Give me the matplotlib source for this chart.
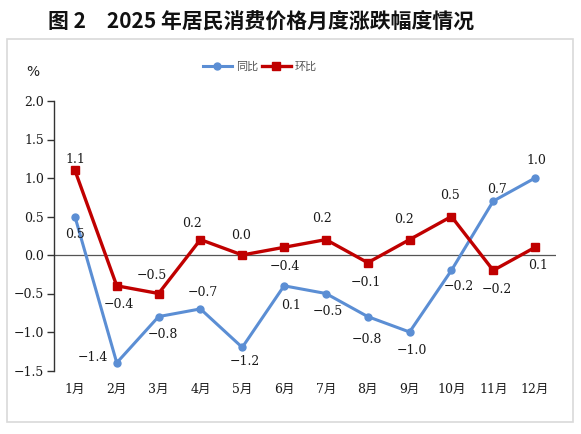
import matplotlib
matplotlib.use('Agg')
import matplotlib.pyplot as plt
from matplotlib.patches import Rectangle

months = ['1月', '2月', '3月', '4月', '5月', '6月', '7月', '8月', '9月', '10月', '11月', '12月']
yoy = [0.5, -1.4, -0.8, -0.7, -1.2, -0.4, -0.5, -0.8, -1.0, -0.2, 0.7, 1.0]
mom = [1.1, -0.4, -0.5, 0.2, 0.0, 0.1, 0.2, -0.1, 0.2, 0.5, -0.2, 0.1]
# labels as printed in the source (the 6月 ones are swapped there)
yoy_text = ['0.5', '−1.4', '−0.8', '−0.7', '−1.2', '0.1', '−0.5', '−0.8', '−1.0', '−0.2', '0.7', '1.0']
mom_text = ['1.1', '−0.4', '−0.5', '0.2', '0.0', '−0.4', '0.2', '−0.1', '0.2', '0.5', '−0.2', '0.1']
yticks = [2.0, 1.5, 1.0, 0.5, 0.0, -0.5, -1.0, -1.5]

# label offsets in pixels
yoy_off = [(0, -18), (-24, 5), (4, -18), (2, 16), (3, -14), (7, -20),
           (2, -18), (-1, -23), (2, -19), (7, -16), (4, 12), (1, 18)]
mom_off = [(0, 11), (2, -19), (-7, 18), (-8, 16), (-1, 20), (1, -19),
           (-4, 21), (-2, -20), (-6, 20), (-1, 21), (4, -19), (3, -18)]

serif = ['DejaVu Serif', 'Noto Sans CJK SC']
blue = '#5B8ED4'
red = '#C00000'

fig = plt.figure(figsize=(5.81, 4.34), dpi=100)
ax = fig.add_axes([54 / 581, 1 - 370.5 / 434, (556 - 54) / 581, (370.5 - 101) / 434])

fig.patches.append(Rectangle((7 / 581, 1 - 422 / 434), 566 / 581, 383 / 434,
                             transform=fig.transFigure, fill=False,
                             edgecolor='#d9d9d9', lw=1.2))

fig.text(261 / 581, 1 - 22 / 434, '图 2　2025 年居民消费价格月度涨跌幅度情况',
         ha='center', va='center', fontsize=15, fontweight='bold',
         family=['Noto Sans CJK SC'], color='#111111')
fig.text(33 / 581, 1 - 72 / 434, '%', ha='center', va='center', fontsize=10,
         family=['DejaVu Sans'], color='#222222')

x = list(range(1, len(months) + 1))
ax.axhline(0, color='#555555', lw=0.9, zorder=1)
l1, = ax.plot(x, yoy, color=blue, lw=2.2, marker='o', markersize=5, label='同比', zorder=3)
l2, = ax.plot(x, mom, color=red, lw=2.4, marker='s', markersize=5.5, label='环比', zorder=3)

for xi, yi, t, o in zip(x, yoy, yoy_text, yoy_off):
    ax.annotate(t, (xi, yi), xytext=o, textcoords='offset pixels', ha='center', va='center',
                fontsize=9, family=serif, color='#1a1a1a')
for xi, yi, t, o in zip(x, mom, mom_text, mom_off):
    ax.annotate(t, (xi, yi), xytext=o, textcoords='offset pixels', ha='center', va='center',
                fontsize=9, family=serif, color='#1a1a1a')

ax.set_xlim(0.5, 12.5)
ax.set_ylim(-1.5, 2.0)
ax.set_yticks(yticks)
ax.set_yticklabels([f'{v:.1f}'.replace('-', '−') for v in yticks], family=serif, fontsize=9,
                   color='#1a1a1a')
ax.set_xticks(x)
ax.set_xticklabels(months, family=serif, fontsize=9, color='#1a1a1a')
ax.tick_params(axis='x', length=0, pad=9)
ax.tick_params(axis='y', length=5, width=1, color='#333333', pad=2)
for s in ['top', 'right', 'bottom']:
    ax.spines[s].set_visible(False)
ax.spines['left'].set_color('#333333')
ax.spines['left'].set_linewidth(1)

fig.legend(handles=[l1, l2], loc='center', bbox_to_anchor=(260 / 581, 1 - 67 / 434),
           ncol=2, frameon=False, handlelength=2.6, handletextpad=0.4,
           columnspacing=0.3, labelcolor='#555555', prop={'family': ['Noto Sans CJK SC'], 'size': 8})

fig.savefig('out.png', dpi=100)
